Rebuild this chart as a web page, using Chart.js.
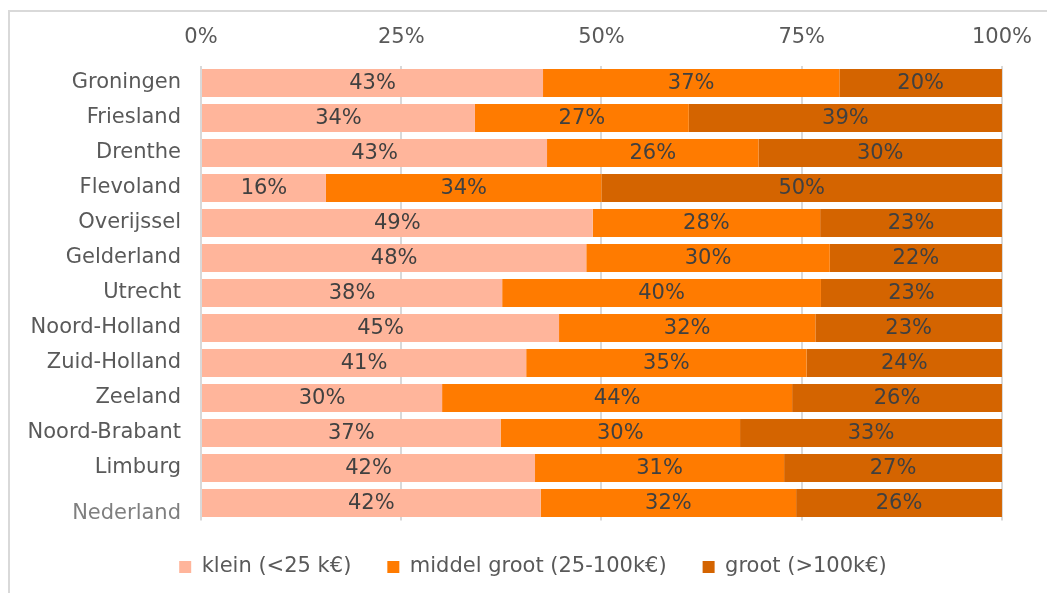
<!DOCTYPE html>
<html>
<head>
<meta charset="utf-8">
<script src="https://cdn.jsdelivr.net/npm/chart.js@4"></script>
<style>
  body { margin: 0; background: #fff; }
  #wrap { position: relative; width: 1047px; height: 593px; overflow: hidden; }
  #frame { position: absolute; left: 8px; top: 10px; width: 1060px; height: 600px;
           border-left: 2px solid #d9d9d9; border-top: 2px solid #d9d9d9; }
  #myChart { position: absolute; left: 0; top: 0; }
</style>
</head>
<body>
<div id="wrap">
  <div id="frame"></div>
  <canvas id="myChart" width="1047" height="593"></canvas>
</div>
<script>
let provincies = ['Groningen', 'Friesland', 'Drenthe', 'Flevoland', 'Overijssel', 'Gelderland',
    'Utrecht', 'Noord-Holland', 'Zuid-Holland', 'Zeeland', 'Noord-Brabant', 'Limburg', ['', 'Nederland']];

let klein  = [42.7, 34.2, 43.2, 15.6, 48.9, 48.1, 37.6, 44.7, 40.6, 30.1, 37.4, 41.7, 42.4];
let middel = [37.0, 26.7, 26.4, 34.4, 28.4, 30.4, 39.8, 32.0, 35.0, 43.7, 29.9, 31.1, 31.9];
let groot  = [20.3, 39.1, 30.4, 50.0, 22.7, 21.5, 22.6, 23.3, 24.4, 26.2, 32.7, 27.2, 25.7];

let tickWaarden = [0, 25, 50, 75, 100];

let fontNaam = "'DejaVu Sans', Verdana, sans-serif";

// labels midden in elk stukje balk
let balkLabels = {
    id: 'balkLabels',
    afterDatasetsDraw(chart) {
        let ctx = chart.ctx;
        ctx.save();
        ctx.font = '21px ' + fontNaam;
        ctx.fillStyle = '#404040';
        ctx.textAlign = 'center';
        ctx.textBaseline = 'middle';
        chart.data.datasets.forEach((ds, i) => {
            let meta = chart.getDatasetMeta(i);
            meta.data.forEach((bar, j) => {
                let x = (bar.x + bar.base) / 2;
                ctx.fillText(Math.round(ds.data[j]) + '%', x, bar.y + 1);
            });
        });
        ctx.restore();
    }
};

// legenda iets naar rechts schuiven, zoals in het origineel
let legendaSchuif = {
    id: 'legendaSchuif',
    afterLayout(chart) {
        chart.legend.left += 32;
        chart.legend.right += 32;
    }
};

let ctx = document.getElementById('myChart').getContext('2d');
let myChart = new Chart(ctx, {
    type: 'bar',
    data: {
        labels: provincies,
        datasets: [
            { label: 'klein (<25 k€)', data: klein, backgroundColor: '#ffb59b' },
            { label: 'middel groot (25-100k€)', data: middel, backgroundColor: '#ff7b00' },
            { label: 'groot (>100k€)', data: groot, backgroundColor: '#d46400' }
        ]
    },
    options: {
        indexAxis: 'y',
        responsive: false,
        animation: false,
        categoryPercentage: 0.8,
        barPercentage: 1,
        layout: { padding: { left: 0, right: 45, top: 0, bottom: 5.5 } },
        plugins: {
            tooltip: { enabled: false },
            legend: {
                position: 'bottom',
                labels: {
                    boxWidth: 12,
                    boxHeight: 12,
                    padding: 36,
                    color: '#595959',
                    font: { family: fontNaam, size: 21 }
                }
            }
        },
        scales: {
            x: {
                position: 'top',
                stacked: true,
                min: 0,
                max: 100,
                afterBuildTicks: (s) => { s.ticks = tickWaarden.map(v => ({ value: v })); },
                afterFit: (s) => { s.height = 65.5; },
                grid: { color: '#d9d9d9', lineWidth: 2, drawTicks: false },
                border: { display: false },
                ticks: {
                    padding: 15,
                    color: '#595959',
                    font: { family: fontNaam, size: 21 },
                    callback: (v) => v + '%'
                }
            },
            y: {
                stacked: true,
                afterFit: (s) => { s.width = 201; },
                grid: { display: false, drawTicks: false },
                border: { display: false },
                ticks: {
                    autoSkip: false,
                    padding: 20,
                    color: (c) => c.index === 12 ? '#7f7f7f' : '#595959',
                    font: { family: fontNaam, size: 21, lineHeight: 1.0 }
                }
            }
        }
    },
    plugins: [balkLabels, legendaSchuif]
});
</script>
</body>
</html>
